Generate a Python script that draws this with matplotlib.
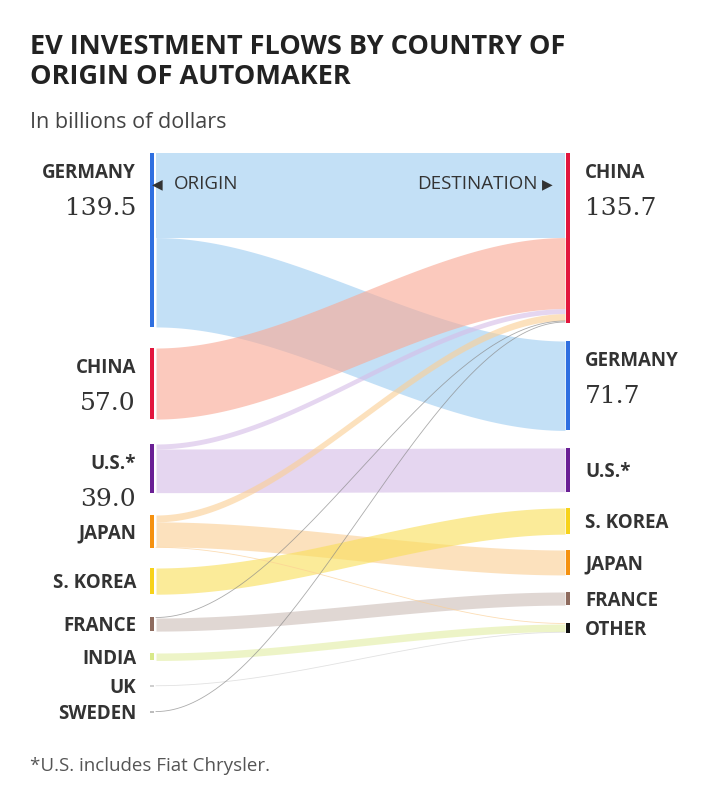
import matplotlib
matplotlib.use("Agg")
import matplotlib.pyplot as plt
import numpy as np

origins = ["GERMANY", "CHINA", "U.S.*", "JAPAN", "S. KOREA", "FRANCE", "INDIA", "UK", "SWEDEN"]
origin_values_label = {"GERMANY": "139.5", "CHINA": "57.0", "U.S.*": "39.0"}
dests = ["CHINA", "GERMANY", "U.S.*", "S. KOREA", "JAPAN", "FRANCE", "OTHER"]
dest_values_label = {"CHINA": "135.7", "GERMANY": "71.7"}
flows = [
    ("GERMANY", "CHINA", 67.8), ("GERMANY", "GERMANY", 71.7),
    ("CHINA", "CHINA", 57.0),
    ("U.S.*", "CHINA", 4.0), ("U.S.*", "U.S.*", 35.0),
    ("JAPAN", "CHINA", 5.5), ("JAPAN", "JAPAN", 20.0), ("JAPAN", "OTHER", 0.5),
    ("S. KOREA", "S. KOREA", 21.0),
    ("FRANCE", "CHINA", 0.5), ("FRANCE", "FRANCE", 10.5),
    ("INDIA", "OTHER", 6.0),
    ("UK", "OTHER", 1.2),
    ("SWEDEN", "CHINA", 0.9),
]

bar_col = {"GERMANY": "#2f6fe0", "CHINA": "#e2163d", "U.S.*": "#6a1f95", "JAPAN": "#f5910f",
           "S. KOREA": "#f7d21a", "FRANCE": "#8e6b5e", "INDIA": "#d8e98a", "UK": "#cfcfcf",
           "SWEDEN": "#bdbdbd", "OTHER": "#111111"}
flow_col = {"GERMANY": "#9fcdf2", "CHINA": "#f9a995", "U.S.*": "#d6bde8", "JAPAN": "#fbcf95",
            "S. KOREA": "#f9df5a", "FRANCE": "#cdbfb9", "INDIA": "#e3eea5", "UK": "#d5d5d5",
            "SWEDEN": "#9a9a9a"}

S = 1.247  # px per billion
left_top = {"GERMANY": 153, "CHINA": 348, "U.S.*": 444, "JAPAN": 515, "S. KOREA": 568,
            "FRANCE": 617, "INDIA": 653, "UK": 685, "SWEDEN": 711}
right_top = {"CHINA": 153, "GERMANY": 341, "U.S.*": 448, "S. KOREA": 508, "JAPAN": 550,
             "FRANCE": 592, "OTHER": 623}
XL, XR = 156, 565

fig = plt.figure(figsize=(7.2, 8.05), dpi=100)
ax = fig.add_axes([0, 0, 1, 1])
ax.set_xlim(0, 720); ax.set_ylim(805, 0); ax.axis("off")

def w(v):
    return max(v * S, 1.0)

lcur = dict(left_top)
rcur = dict(right_top)
ordered = sorted(flows, key=lambda f: (origins.index(f[0]), dests.index(f[1])))
lpos = {}
for o, d, v in ordered:
    lpos[(o, d)] = lcur[o]; lcur[o] += w(v)
rpos = {}
for o, d, v in sorted(flows, key=lambda f: (dests.index(f[1]), origins.index(f[0]))):
    rpos[(o, d)] = rcur[d]; rcur[d] += w(v)

t = np.linspace(0, 1, 200)
s = t * t * (3 - 2 * t)
x = XL + (XR - XL) * t
for o, d, v in ordered:
    y0 = lpos[(o, d)] + (rpos[(o, d)] - lpos[(o, d)]) * s
    ww = w(v)
    if v * S < 1.5:
        c = "#888888" if o in ("SWEDEN", "FRANCE") else flow_col[o]
        ax.plot(x, y0 + ww / 2, color=c, lw=0.6, alpha=0.7)
    else:
        ax.fill_between(x, y0, y0 + ww, color=flow_col[o], alpha=0.62, lw=0)

for n in origins:
    h = lcur[n] - left_top[n]
    ax.add_patch(plt.Rectangle((150, left_top[n]), 4, max(h, 2), color=bar_col[n], lw=0))
for n in dests:
    h = rcur[n] - right_top[n]
    ax.add_patch(plt.Rectangle((566, right_top[n]), 4, max(h, 2), color=bar_col[n], lw=0))

lab = dict(family="Open Sans", fontweight="bold", fontsize=13.5, color="#333333")
val = dict(family="DejaVu Serif", fontsize=18, color="#333333")
for n in origins:
    y = left_top[n]
    ym = y + (lcur[n] - y) / 2
    if n in origin_values_label:
        ax.text(136, y + 20, n, ha="right", va="center", **lab)
        ax.text(136, y + 55, origin_values_label[n], ha="right", va="center", **val)
    else:
        ax.text(136, ym + 2, n, ha="right", va="center", **lab)
for n in dests:
    y = right_top[n]
    ym = y + (rcur[n] - y) / 2
    if n in dest_values_label:
        ax.text(585, y + 20, n, ha="left", va="center", **lab)
        ax.text(585, y + 55, dest_values_label[n], ha="left", va="center", **val)
    else:
        ax.text(585, ym + 2, n, ha="left", va="center", **lab)

ax.text(152, 184, "◀", ha="left", va="center", fontsize=10, color="#333333", family="DejaVu Sans")
ax.text(174, 184, "ORIGIN", ha="left", va="center", fontsize=13.5, color="#333333", family="Open Sans")
ax.text(538, 184, "DESTINATION", ha="right", va="center", fontsize=13.5, color="#333333", family="Open Sans")
ax.text(542, 184, "▶", ha="left", va="center", fontsize=10, color="#333333", family="DejaVu Sans")

ax.text(30, 62, "EV INVESTMENT FLOWS BY COUNTRY OF\nORIGIN OF AUTOMAKER", ha="left", va="center",
        family="Open Sans", fontweight="bold", fontsize=19.5, color="#222222", linespacing=1.2)
ax.text(30, 123, "In billions of dollars", ha="left", va="center", family="Open Sans",
        fontsize=15.5, color="#444444")
ax.text(30, 766, "*U.S. includes Fiat Chrysler.", ha="left", va="center", family="Open Sans",
        fontsize=13.5, color="#555555")

fig.savefig("out.png", dpi=100, facecolor="white")
